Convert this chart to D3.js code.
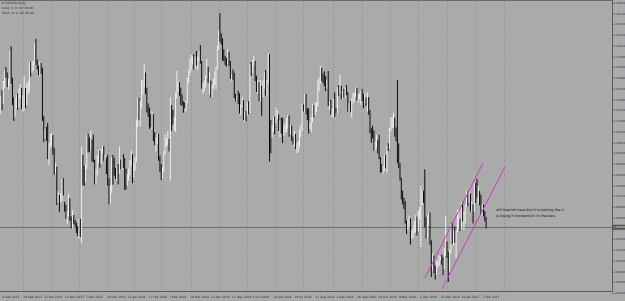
<!DOCTYPE html>
<html lang="en">
<head>
<meta charset="UTF-8">
<title>EURUSD Daily</title>
<script src="https://d3js.org/d3.v7.min.js"></script>
<style>
  body { margin: 0; background: #aaaaaa; }
  svg { display: block; }
  text { font-family: "DejaVu Sans", sans-serif; fill: #2b2b2b; }
</style>
</head>
<body>
<svg id="chart" width="625" height="301"></svg>
<script>
// daily bars as [high, low, close] in pips above 1.0000 (1205 -> 1.1205)
const firstOpen = 1170;
const bars2015 = [
  [1225,1140,1205],[1251,1155,1199],[1295,1185,1276],[1345,1260,1338],
  [1360,1310,1318],[1335,1265,1268],[1305,1255,1290],[1438,1274,1433],[1460,1280,1300],
  [1311,1180,1194],[1217,1105,1130],[1215,1125,1185],[1230,1160,1201],[1235,1157,1195],
  [1260,1169,1240],[1280,1210,1250],[1262,1160,1176],
  [1227,1150,1194],[1318,1155,1212],
  [1261,1165,1193],[1284,1180,1265],[1296,1228,1280],[1386,1241,1360],[1387,1315,1358],
  [1391,1335,1360],[1389,1345,1380],[1476,1370,1470],[1495,1371,1380],[1396,1349,1351],
  [1368,1322,1322],[1387,1318,1344],[1381,1327,1341],[1358,1105,1108],[1128,1005,1013],
  [1068,1020,1055],[1077,1011,1044],[1096,923,925],[1000,896,980],[1043,975,1005],
  [1047,985,1015],[1038,944,958],[978,851,862],[907,855,880],[888,706,739],
  [771,716,750],[754,673,720],[762,717,745],[830,725,815],[833,751,768],
  [721,674,685],[707,640,644],[677,616,659],[760,652,730],[738,631,645],
  [652,595,635],[683,593,645],[658,616,625],[636,606,610],[623,572,592],
  [606,558,565],
  [640,546,630],[640,554,614],[981,524,940],[945,800,882],
  [893,796,836],[897,813,895],[1042,877,1025],[1045,955,990],[1027,958,988],
  [1059,964,995],[1017,911,935],[1040,909,915],[920,804,830],[877,806,866],
  [943,846,915],[969,904,955],[963,883,915],[973,899,965],
  [988,949,970],[986,914,925],[945,913,929],[931,852,860]
];
const bars2016 = [
  [945,797,830],[833,710,745],[799,712,780],[931,764,930],[944,802,925],
  [930,845,860],[883,829,855],[889,822,875],[900,804,865],[985,853,915],
  [922,876,890],[930,873,910],[947,882,890],[929,778,875],[879,778,795],
  [854,797,850],[880,821,870],[919,845,895],[963,892,935],[947,809,830],
  [906,835,890],[933,868,920],[1113,910,1105],[1215,1077,1210],[1215,1108,1155],
  [1200,1080,1195],[1299,1164,1285],[1299,1228,1290],[1376,1262,1320],[1335,1232,1255],
  [1263,1145,1155],[1188,1124,1145],[1168,1067,1125],[1138,1074,1105],[1150,1066,1130],
  [1138,1009,1025],[1052,989,1015],[1027,959,1015],[1043,996,1025],[1044,916,930],
  [940,862,875],
  [900,825,865],[885,830,865],[962,860,955],[1041,945,1005],
  [1024,983,1010],[1056,989,1010],[1021,960,995],[1218,822,1175],[1181,1058,1150],
  [1158,1088,1105],[1124,1058,1105],[1240,1053,1225],[1342,1212,1270],[1293,1241,1270],
  [1289,1224,1245],[1263,1179,1220],[1230,1178,1185],[1198,1144,1180],[1193,1165,1165],
  [1202,1150,1195],[1311,1188,1295],[1348,1285,1335],[1402,1320,1380],
  [1419,1343,1390],
  [1412,1371,1390],[1421,1348,1385],[1411,1350,1405],[1437,1367,1375],[1410,1346,1400],
  [1439,1385,1410],[1465,1377,1385],[1390,1258,1265],[1285,1234,1265],[1297,1244,1285],
  [1323,1263,1315],[1400,1307,1355],[1363,1286,1290],[1340,1232,1295],[1297,1216,1225],
  [1277,1217,1265],[1306,1257,1300],[1340,1276,1320],[1362,1255,1355],[1462,1350,1455],
  [1536,1440,1530],[1616,1480,1500],[1521,1468,1490],[1497,1391,1405],[1445,1388,1400],
  [1413,1370,1385],[1404,1363,1380],[1446,1373,1430],[1434,1366,1375],[1390,1304,1310],
  [1326,1295,1315],[1349,1300,1310],[1334,1214,1220],[1233,1198,1205],[1226,1202,1220],
  [1248,1184,1215],[1236,1140,1140],[1184,1133,1180],[1216,1166,1195],[1203,1109,1115],
  [1148,1100,1140],[1152,1103,1130],
  [1194,1130,1185],[1199,1137,1150],[1374,1142,1365],
  [1386,1319,1355],[1394,1332,1385],[1416,1367,1395],[1390,1294,1310],[1320,1242,1250],
  [1299,1234,1285],[1289,1198,1210],[1299,1198,1260],[1273,1130,1225],[1297,1219,1275],
  [1338,1257,1315],[1347,1224,1240],[1301,1224,1295],[1428,1284,1385],[1423,912,1120],
  [1109,951,1030],[1087,1025,1070],[1128,1053,1120],[1127,1041,1105],
  [1169,1092,1135],
  [1156,1113,1135],[1136,1058,1065],[1108,1028,1095],[1120,1044,1060],[1120,1000,1050],
  [1085,1033,1055],[1094,1048,1060],[1120,1051,1090],[1134,1069,1125],[1131,1030,1040],
  [1088,1038,1075],[1084,1010,1020],[1032,993,1005],[1058,982,1025],[1043,971,975],
  [1001,952,990],[1010,956,995],[1066,980,1055],[1085,1028,1075],[1185,1058,1175],
  [1184,1150,1165],[1234,1144,1225],[1233,1137,1150],[1166,1109,1130],[1164,1045,1085],
  [1099,1066,1085],[1124,1052,1115],[1186,1099,1180],[1182,1122,1135],[1190,1130,1160],
  [1195,1147,1180],[1296,1173,1290],[1312,1246,1290],[1366,1282,1350],[1357,1294,1325],
  [1330,1284,1320],[1340,1270,1305],[1318,1247,1265],[1300,1260,1285],[1342,1176,1195],
  [1199,1157,1195],[1204,1135,1145],[1166,1122,1155],
  [1209,1122,1195],[1240,1124,1155],
  [1165,1141,1150],[1266,1137,1255],[1275,1224,1240],[1327,1231,1260],[1272,1208,1230],
  [1251,1209,1235],[1257,1215,1220],[1264,1213,1245],[1276,1227,1240],[1241,1149,1155],
  [1191,1149,1170],[1200,1148,1150],[1212,1121,1190],[1237,1188,1205],[1240,1196,1225],
  [1266,1220,1255],[1262,1201,1215],[1232,1190,1215],[1236,1206,1225],[1249,1182,1240],
  [1256,1199,1210],[1235,1166,1205],[1238,1190,1205],[1216,1176,1200],[1239,1150,1200],
  [1218,1134,1145],[1156,1047,1055],[1070,1001,1050],[1082,1022,1045],[1060,964,970],
  [1008,964,1000],[1040,974,1005],[1013,951,970],[1039,923,930],[933,859,885],
  [900,862,880],[894,856,880],[944,868,920],[944,880,895],[992,861,985],
  [999,962,980],
  [1072,970,1055],[1124,1055,1095],[1123,1069,1095],[1143,1071,1140],
  [1121,1030,1040],[1074,1008,1025],[1300,905,920],[998,881,890],[905,822,855],
  [835,732,735],[774,709,720],[740,686,690],[725,618,625],[632,568,590],
  [634,587,630],[654,598,630],[643,518,550],[584,545,555],[605,550,590],
  [630,573,610],[659,575,645],[651,561,590],
  [677,581,665],[695,637,665],
  [795,505,720],[772,706,765],[773,716,755],[875,600,615],[649,546,560],
  [651,546,635],[668,607,635],[670,516,525],[538,363,410],[475,392,450],
  [466,382,400],[418,352,390],[440,373,425],[442,408,435],[466,416,455],
  [462,443,455],[470,422,440],[459,372,410],[500,400,495],[652,464,520]
];
const bars2017 = [
  [533,455,465],[485,340,405],[493,390,485],[615,475,605],[624,520,530],
  [585,513,575],[604,527,555],[585,453,585],[684,575,610],[685,592,645],
  [641,582,605],[720,587,715],[720,628,635],[676,587,660],[707,619,700],
  [775,698,760],[773,700,730],[774,717,745],[761,675,680],[725,674,695],
  [709,618,690],[811,674,800],
  [810,715,765],[829,740,760],[796,711,785],
  [773,705,750],[755,661,680],[710,655,700],[708,652,670],[677,628,640],
  [649,595,600]
];

// time labels (every 16th bar) and month-start bars for the vertical grid
const timeLabels = ["8 Sep 2015","30 Sep 2015","22 Oct 2015","13 Nov 2015","7 Dec 2015",
  "29 Dec 2015","21 Jan 2016","12 Feb 2016","7 Mar 2016","29 Mar 2016","21 Apr 2016",
  "13 May 2016","6 Jun 2016","28 Jun 2016","20 Jul 2016","11 Aug 2016","2 Sep 2016",
  "26 Sep 2016","18 Oct 2016","9 Nov 2016","1 Dec 2016","23 Dec 2016","16 Jan 2017","7 Feb 2017"];
const monthStarts = [17,39,60,82,102,123,146,167,189,211,232,255,277,298,320,342,364,386];

const priceTicks = [1.16650,1.16140,1.15630,1.15120,1.14610,1.14100,1.13590,1.13080,
  1.12570,1.12060,1.11550,1.11040,1.10530,1.10020,1.09510,1.09000,1.08490,1.07980,
  1.07470,1.06960,1.06450,1.05940,1.05430,1.04920,1.04410,1.03900,1.03390,1.02880];

// channel drawn on the chart: [bar index, price] end points
const channelUpper = [[325.1, 1.0359], [369.6, 1.0905]];
const channelLower = [[338.2, 1.0307], [386.4, 1.0886]];

const headerLines = ["EURUSD,Daily", "Long: 0, 0, 00, 00.00", "Short: 0, 0, 00, 00.00"];
const note = ["still bearish here but it is looking like it", "is losing it momentum in the bars"];

const width = 625, height = 301;
const plotRight = 612, plotBottom = 291;

const pip = v => 1 + v / 10000;
const hlc = bars2015.concat(bars2016, bars2017);
const bars = hlc.map((d, i) => ({
  i,
  o: pip(i ? hlc[i - 1][2] : firstOpen),
  h: pip(d[0]), l: pip(d[1]), c: pip(d[2])
}));
const last = bars[bars.length - 1];

const x = d3.scaleLinear().domain([0, 469]).range([0.7, 612.7]);
const y = d3.scaleLinear().domain([1.0288, 1.1665]).range([293, 3]);

const svg = d3.select('#chart');

svg.append('rect').attr('width', width).attr('height', height).attr('fill', '#aaaaaa');

const plot = svg.append('g');

// month grid
plot.selectAll('.grid')
  .data(monthStarts)
  .enter().append('line')
  .attr('x1', d => Math.round(x(d)) + 0.5)
  .attr('x2', d => Math.round(x(d)) + 0.5)
  .attr('y1', 1).attr('y2', plotBottom)
  .attr('stroke', '#8a8a8a')
  .attr('stroke-dasharray', '1,2');

// current price line
plot.append('line')
  .attr('x1', 0).attr('x2', plotRight)
  .attr('y1', Math.round(y(last.c)) + 0.5).attr('y2', Math.round(y(last.c)) + 0.5)
  .attr('stroke', '#707070');

// bars
plot.selectAll('.bar')
  .data(bars)
  .enter().append('line')
  .attr('x1', d => x(d.i)).attr('x2', d => x(d.i))
  .attr('y1', d => y(d.h)).attr('y2', d => y(d.l))
  .attr('stroke', d => d.c >= d.o ? '#efefef' : '#0a0a0a')
  .attr('stroke-width', 1);

// channel lines
[channelUpper, channelLower].forEach(pts => {
  plot.append('line')
    .attr('x1', x(pts[0][0])).attr('y1', y(pts[0][1]))
    .attr('x2', x(pts[1][0])).attr('y2', y(pts[1][1]))
    .attr('stroke', '#c43ec8')
    .attr('stroke-width', 1);
});

// frame
svg.append('line').attr('x1', 0).attr('x2', plotRight + 0.5).attr('y1', 0.5).attr('y2', 0.5).attr('stroke', '#6a6a6a');
svg.append('line').attr('x1', plotRight + 0.5).attr('x2', plotRight + 0.5).attr('y1', 0).attr('y2', plotBottom + 0.5).attr('stroke', '#5a5a5a');
svg.append('line').attr('x1', 0).attr('x2', plotRight + 0.5).attr('y1', plotBottom + 0.5).attr('y2', plotBottom + 0.5).attr('stroke', '#5a5a5a');

// price axis
const yAxis = svg.append('g');
priceTicks.forEach(p => {
  const py = y(p);
  if (Math.abs(py - y(last.c)) < 5) return;
  yAxis.append('line')
    .attr('x1', plotRight + 0.5).attr('x2', plotRight + 1.5)
    .attr('y1', Math.round(py) + 0.5).attr('y2', Math.round(py) + 0.5)
    .attr('stroke', '#5a5a5a');
  yAxis.append('text')
    .attr('x', plotRight + 1.8).attr('y', py + 1)
    .attr('font-size', 2.7)
    .text(p.toFixed(5));
});
yAxis.append('rect')
  .attr('x', plotRight + 0.5).attr('y', y(last.c) - 2.5)
  .attr('width', 12.5).attr('height', 5)
  .attr('fill', '#555555');
yAxis.append('text')
  .attr('x', plotRight + 1.8).attr('y', y(last.c) + 1)
  .attr('font-size', 2.7)
  .style('fill', '#f0f0f0')
  .text(last.c.toFixed(5));

// time axis
svg.selectAll('.tlabel')
  .data(timeLabels)
  .enter().append('text')
  .attr('x', (d, i) => x(i * 16) + 1.5)
  .attr('y', 297.5)
  .attr('font-size', 3)
  .text(d => d);

// header
svg.append('path').attr('d', 'M1.5,2.5 L3.5,2.5 L2.5,4 Z').attr('fill', '#2b2b2b');
svg.selectAll('.hdr')
  .data(headerLines)
  .enter().append('text')
  .attr('x', (d, i) => i ? 2 : 4.5)
  .attr('y', (d, i) => 4 + i * 5)
  .attr('font-size', 3)
  .text(d => d);

// note
svg.selectAll('.note')
  .data(note)
  .enter().append('text')
  .attr('x', 496)
  .attr('y', (d, i) => 211 + i * 5.5)
  .attr('font-size', 3.5)
  .style('fill', '#111111')
  .text(d => d);
</script>
</body>
</html>
